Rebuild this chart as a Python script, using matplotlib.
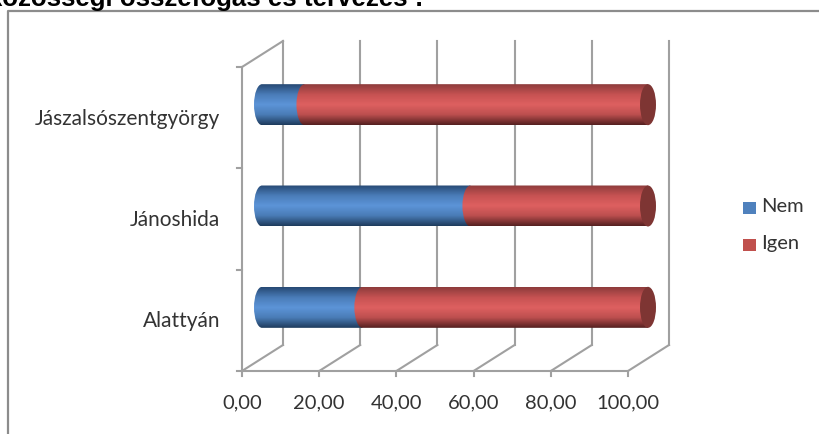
import numpy as np
import matplotlib
matplotlib.use('Agg')
import matplotlib.pyplot as plt
from matplotlib.patches import PathPatch, Ellipse, Rectangle
from matplotlib.path import Path
from matplotlib.colors import LinearSegmentedColormap

categories = ['Alattyán', 'Jánoshida', 'Jászalsószentgyörgy']
nem = [26, 54, 11]
igen = [74, 46, 89]
xticks = [0, 20, 40, 60, 80, 100]
xlabels = ['0,00', '20,00', '40,00', '60,00', '80,00', '100,00']
title = 'közösségi összefogás és tervezés :'

W, H = 819, 434
plt.rcParams['font.family'] = ['Lato', 'DejaVu Sans']
fig = plt.figure(figsize=(W / 100, H / 100), dpi=100)

# frame of the picture, pixels
frame = fig.add_axes([0, 0, 1, 1], zorder=0)
frame.set_xlim(0, W)
frame.set_ylim(H, 0)
frame.axis('off')
frame.plot([8, 8, 819], [434, 11, 11], color='#8c8c8c', lw=1.6)
frame.text(-12, 6, title, family=['Liberation Sans'], weight='bold', fontsize=18.6,
           color='black', va='baseline', ha='left', clip_on=False)

# front plane of the fake 3d chart
x0, x1, y0, y1 = 242, 628, 371, 67
ax = fig.add_axes([x0 / W, 1 - y0 / H, (x1 - x0) / W, (y0 - y1) / H], zorder=1)
ax.set_xlim(0, 100)
ax.set_ylim(0, 3)
ax.axis('off')
px = 100 / (x1 - x0)
py = 3 / (y0 - y1)
depth_x, depth_y = 41 * px, 26 * py
grid = '#a0a0a0'
lw = 1.5

for t, lab in zip(xticks, xlabels):
    ax.plot([t, t + depth_x], [0, depth_y], color=grid, lw=lw, clip_on=False)
    ax.plot([t + depth_x, t + depth_x], [depth_y, 3 + depth_y], color=grid, lw=lw, clip_on=False)
    ax.plot([t, t], [0, -5 * py], color=grid, lw=lw, clip_on=False)
    ax.text(t, -32 * py, lab, ha='center', va='center', fontsize=14.5, color='#333333')
ax.plot([0, 100], [0, 0], color=grid, lw=lw, clip_on=False)
ax.plot([0, 0], [0, 3], color=grid, lw=lw, clip_on=False)
ax.plot([0, depth_x], [3, 3 + depth_y], color=grid, lw=lw, clip_on=False)
for i in range(4):
    ax.plot([-5 * px, 0], [i, i], color=grid, lw=lw, clip_on=False)

blue = LinearSegmentedColormap.from_list('b', ['#274a75', '#4a7cb8', '#5c94d8', '#4a7cb6', '#1f3c5e'])
red = LinearSegmentedColormap.from_list('r', ['#8e3c3c', '#c65252', '#de6060', '#bc4f4f', '#562020'])
grad = np.linspace(0, 1, 64).reshape(-1, 1)

bar_h = 41 * py
rx = 8 * px
off_x = 20 * px
off_y = 13 * py


def cylinder(start, end, yc, cmap, z):
    # body with rounded left end, flat tube look
    left = start + off_x
    right = end + off_x
    top, bot = yc + bar_h / 2, yc - bar_h / 2
    k = 0.55
    verts = [(right, bot), (right, top), (left, top),
             (left - rx * k, top), (left - rx, yc + bar_h / 2 * k), (left - rx, yc),
             (left - rx, yc - bar_h / 2 * k), (left - rx * k, bot), (left, bot),
             (right, bot), (right, bot)]
    codes = [Path.MOVETO, Path.LINETO, Path.LINETO,
             Path.CURVE4, Path.CURVE4, Path.CURVE4,
             Path.CURVE4, Path.CURVE4, Path.CURVE4,
             Path.LINETO, Path.CLOSEPOLY]
    patch = PathPatch(Path(verts, codes), fc='none', ec='none', zorder=z, clip_on=False)
    ax.add_patch(patch)
    im = ax.imshow(grad, cmap=cmap, aspect='auto', zorder=z,
                   extent=[left - rx, right + rx, bot, top], origin='upper')
    # image is clipped to the axes box by default, the bar runs past it
    im.set_clip_box(fig.bbox)
    im.set_clip_path(patch)


label_y = [321, 220, 119]
for i in range(len(categories)):
    yc = i + 0.5 + off_y
    # blue goes under red so the arc of red shows
    cylinder(0, nem[i], yc, blue, 3)
    cylinder(nem[i], nem[i] + igen[i], yc, red, 4)
    # right end, dark face
    end_x = nem[i] + igen[i] + off_x
    ax.add_patch(Ellipse((end_x, yc), 2 * rx, bar_h, fc='#7e3533', ec='none', zorder=5, clip_on=False))
    frame.text(220, label_y[i], categories[i], ha='right', va='center', fontsize=15, color='#333333')
ax.set_xlim(0, 100)
ax.set_ylim(0, 3)

# legend
frame.add_patch(Rectangle((742.5, 202), 13, 11.5, fc='#4f81bd', ec='none'))
frame.add_patch(Rectangle((742.5, 239), 13, 11.5, fc='#c0504d', ec='none'))
frame.text(761, 207, 'Nem', fontsize=14.5, va='center', color='#333333')
frame.text(761, 244, 'Igen', fontsize=14.5, va='center', color='#333333')

plt.savefig('out.png', dpi=100)
